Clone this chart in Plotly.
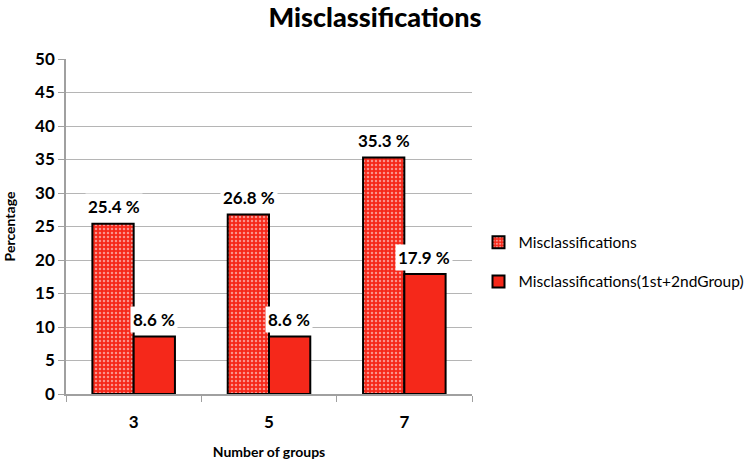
import plotly.graph_objects as go

categories = ["3", "5", "7"]
misclass = [25.4, 26.8, 35.3]
misclass_12 = [8.6, 8.6, 17.9]
series_names = ["Misclassifications", "Misclassifications(1st+2ndGroup)"]
y_ticks = [0, 5, 10, 15, 20, 25, 30, 35, 40, 45, 50]

RED = "#f5281a"
FONT = "Lato"

fig = go.Figure()
fig.add_trace(go.Bar(
    x=categories, y=misclass, name=series_names[0], legendgroup="a",
    marker=dict(color=RED, line=dict(color="black", width=2),
                pattern=dict(shape=".", bgcolor=RED, fgcolor="white", size=4, solidity=0.3)),
))
fig.add_trace(go.Bar(
    x=categories, y=misclass_12, name=series_names[1], legendgroup="b",
    marker=dict(color=RED, line=dict(color="black", width=2)),
))

annotations = []
for vals, shift in ((misclass, -20), (misclass_12, 20)):
    for i, v in enumerate(vals):
        annotations.append(dict(
            x=i, y=v, xref="x", yref="y", text=f"{v:.1f} %",
            showarrow=False, xshift=shift, yshift=17, bgcolor="white",
            font=dict(family=FONT, size=17, color="black", weight="bold"), borderpad=2,
        ))

fig.update_layout(
    width=750, height=464,
    margin=dict(l=66, r=278, t=59, b=70, autoexpand=False),
    paper_bgcolor="white", plot_bgcolor="white",
    barmode="group", bargap=0.39, bargroupgap=0,
    title=dict(text="Misclassifications", x=0.5, xanchor="center", y=0.962, yanchor="middle",
               font=dict(family=FONT, size=27, color="black", weight=900)),
    font=dict(family=FONT, color="black"),
    legend=dict(xref="container", yref="container", x=0.638, xanchor="left", y=0.435, yanchor="middle",
                font=dict(family=FONT, size=15.5, color="black"),
                tracegroupgap=16, itemwidth=30),
    annotations=annotations,
    showlegend=True,
)
fig.update_xaxes(
    type="category", showgrid=False, showline=True, linecolor="#a0a0a0", linewidth=1.5,
    ticks="outside", tickson="boundaries", ticklen=6, tickcolor="#a0a0a0",
    ticklabelstandoff=12,
    tickfont=dict(family=FONT, size=17, color="black", weight="bold"),
    title=dict(text="Number of groups", font=dict(family=FONT, size=14, color="black", weight="bold"), standoff=16),
)
fig.update_yaxes(
    range=[0, 50], tickvals=y_ticks,
    showgrid=True, gridcolor="#b5b5b5", gridwidth=1,
    showline=True, linecolor="#a0a0a0", linewidth=1.5,
    ticks="outside", ticklen=6, tickcolor="#a0a0a0",
    tickfont=dict(family=FONT, size=17, color="black", weight="bold"),
    title=dict(text="Percentage", font=dict(family=FONT, size=14, color="black", weight="bold"), standoff=16),
    zeroline=False,
)

fig.write_html("out.html", config={"displayModeBar": False},
               post_script="document.body.style.margin='0';")
